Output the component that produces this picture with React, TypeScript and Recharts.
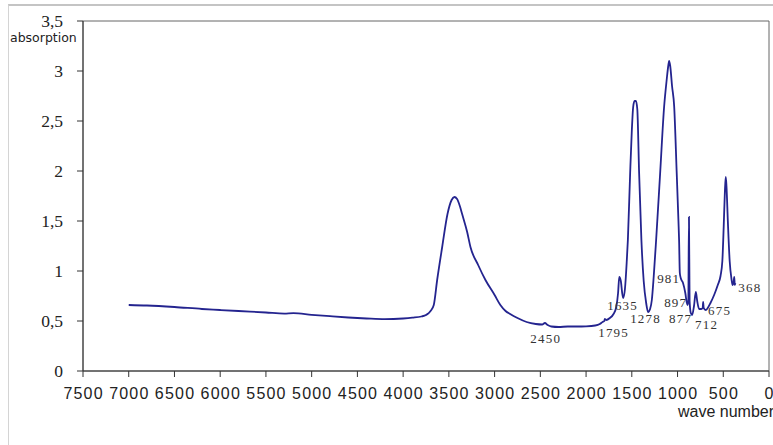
import React from "react";
import { ComposedChart, Line, Scatter, XAxis, YAxis, ReferenceArea } from "recharts";

// wavenumber (cm-1) and absorption
const wavenumbers = [
  7000, 6800, 6500, 6200, 6000, 5800, 5500, 5300, 5200, 5000, 4800, 4600, 4400, 4200, 4000, 3900, 3800, 3750,
  3700, 3665, 3628, 3573, 3515, 3470, 3440, 3410, 3380, 3355, 3300, 3264, 3180, 3100, 3000, 2937, 2880, 2830,
  2750, 2650, 2550, 2480, 2450, 2420, 2380, 2300, 2200, 2100, 2000, 1900, 1850, 1820, 1800, 1795, 1780, 1740,
  1700, 1670, 1650, 1637, 1620, 1605, 1594, 1575, 1555, 1543, 1518, 1500, 1485, 1470, 1455, 1440, 1420, 1395,
  1370, 1343, 1322, 1300, 1281, 1260, 1234, 1190, 1146, 1120, 1100, 1092, 1080, 1060, 1037, 1009, 990, 983,
  975, 965, 940, 915, 900, 890, 882, 875, 868, 855, 840, 820, 800, 785, 764, 740, 725, 720, 714, 692, 670,
  640, 600, 560, 530, 510, 495, 482, 473, 465, 450, 430, 410, 398, 388, 380, 374, 368,
];
const absorption = [
  0.66, 0.655, 0.64, 0.62, 0.61, 0.6, 0.585, 0.574, 0.578, 0.562, 0.548, 0.535, 0.525, 0.518, 0.525, 0.533, 0.545, 0.56,
  0.6, 0.66, 0.91, 1.24, 1.57, 1.71, 1.74, 1.72, 1.65, 1.57, 1.39, 1.24, 1.06, 0.91, 0.76, 0.66, 0.6, 0.57,
  0.53, 0.49, 0.47, 0.465, 0.48, 0.46, 0.445, 0.44, 0.445, 0.445, 0.447, 0.455, 0.47, 0.49, 0.5, 0.52, 0.51, 0.53,
  0.57, 0.64, 0.78, 0.94, 0.9, 0.78, 0.73, 0.82, 1.1, 1.31, 1.98, 2.4, 2.64, 2.7, 2.7, 2.62, 1.98, 1.31,
  0.9, 0.68, 0.59, 0.62, 0.71, 0.95, 1.31, 1.98, 2.65, 2.9, 3.06, 3.1, 3.05, 2.85, 2.65, 1.98, 1.5, 1.31,
  0.98, 0.93, 0.88, 0.78, 0.69, 0.66, 0.7, 1.54, 0.7, 0.58, 0.56, 0.65, 0.79, 0.7, 0.62, 0.62, 0.63, 0.69, 0.63, 0.61, 0.63,
  0.68, 0.76, 0.86, 0.95, 1.1, 1.45, 1.8, 1.94, 1.85, 1.5, 1.1, 0.92, 0.86, 0.88, 0.94, 0.86, 0.88,
];

// peak annotations: label text, text anchor point (wavenumber, absorption)
const peakLabels = ["2450", "1795", "1635", "1278", "981", "897", "877", "712", "675", "368"];
const peakLabelWn = [2609, 1867, 1769, 1518, 1223, 1146, 1092, 808, 666, 335];
const peakLabelAbs = [0.283, 0.343, 0.61, 0.483, 0.877, 0.643, 0.483, 0.42, 0.56, 0.793];

const xTicks = [7500, 7000, 6500, 6000, 5500, 5000, 4500, 4000, 3500, 3000, 2500, 2000, 1500, 1000, 500, 0];
const yTicks = [0, 0.5, 1, 1.5, 2, 2.5, 3, 3.5];

const spectrum = wavenumbers.map((wn, i) => ({ wn, a: absorption[i] }));
const annotations = peakLabels.map((label, i) => ({ wn: peakLabelWn[i], a: peakLabelAbs[i], label }));

const SERIF = "'Liberation Serif', 'Times New Roman', Times, serif";
const SANS = "'Liberation Sans', Arial, Helvetica, sans-serif";

const AnnotationText = (props: any) => {
  const { cx, cy, payload } = props;
  return (
    <text
      x={cx}
      y={cy}
      textAnchor="start"
      style={{ fontFamily: SERIF, fontSize: 13, letterSpacing: 1.2, fill: "#333" }}
    >
      {payload.label}
    </text>
  );
};

const XTick = (props: any) => {
  const { x, y, payload } = props;
  return (
    <text
      x={x + 0.6}
      y={y}
      dy="0.71em"
      textAnchor="middle"
      style={{ fontFamily: SANS, fontSize: 16, letterSpacing: 1.2, fill: "#222" }}
    >
      {payload.value}
    </text>
  );
};

const YTick = (props: any) => {
  const { x, y, payload } = props;
  return (
    <text
      x={x}
      y={y}
      dy="0.355em"
      textAnchor="end"
      style={{ fontFamily: SERIF, fontSize: 17.5, fill: "#222" }}
    >
      {String(payload.value).replace(".", ",")}
    </text>
  );
};

export default function App() {
  return (
    <div style={{ position: "absolute", left: 0, top: 0, width: 773, height: 445, background: "#fff", overflow: "hidden" }}>
      <div
        style={{
          position: "absolute",
          left: 8,
          top: 4,
          right: 0,
          bottom: 0,
          borderTop: "2px solid #c4c4c4",
          borderLeft: "1px solid #d4d4d4",
        }}
      />
      <ComposedChart
        width={773}
        height={445}
        data={spectrum}
        margin={{ top: 21, right: 4, bottom: 44, left: 0 }}
        style={{ position: "absolute", left: 0, top: 0 }}
      >
        <ReferenceArea x1={7500} x2={0} y1={0} y2={3.5} fill="none" stroke="#666" strokeWidth={1} ifOverflow="visible" />
        <XAxis
          dataKey="wn"
          type="number"
          domain={[0, 7500]}
          reversed
          ticks={xTicks}
          interval={0}
          height={30}
          tickSize={6}
          tickMargin={11}
          stroke="#333"
          tick={<XTick />}
          allowDataOverflow
        />
        <YAxis
          type="number"
          domain={[0, 3.5]}
          ticks={yTicks}
          interval={0}
          width={83}
          tickSize={6}
          tickMargin={14}
          stroke="#333"
          tick={<YTick />}
          allowDataOverflow
        />
        <Line
          dataKey="a"
          type="monotone"
          stroke="#24248f"
          strokeWidth={1.8}
          dot={false}
          activeDot={false}
          isAnimationActive={false}
        />
        <Scatter data={annotations} dataKey="a" shape={AnnotationText} isAnimationActive={false} />
      </ComposedChart>
      <div
        style={{
          position: "absolute",
          left: 10,
          top: 31,
          fontFamily: "'DejaVu Sans', Verdana, sans-serif",
          fontSize: 12.5,
          color: "#222",
          lineHeight: "14px",
          background: "#fff",
        }}
      >
        absorption
      </div>
      <div
        style={{
          position: "absolute",
          left: 678,
          top: 403,
          fontFamily: SANS,
          fontSize: 16,
          color: "#222",
          lineHeight: "18px",
          whiteSpace: "nowrap",
        }}
      >
        wave number
      </div>
    </div>
  );
}
